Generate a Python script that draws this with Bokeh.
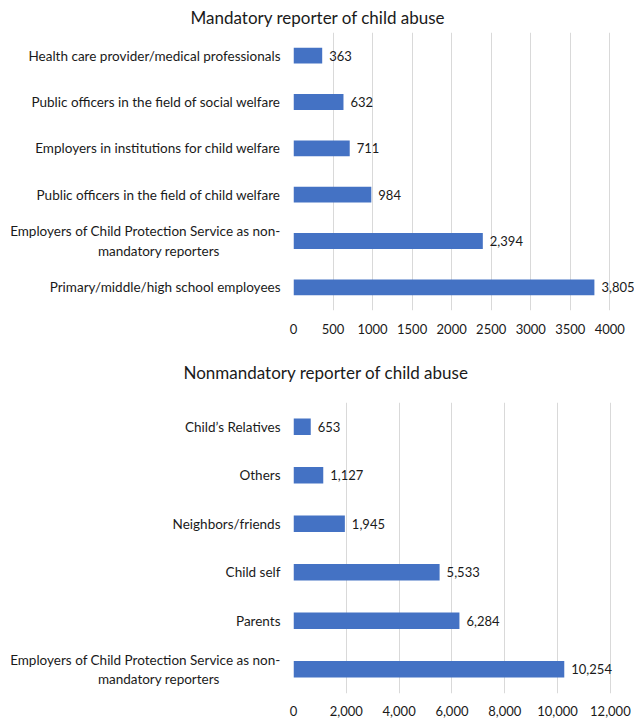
from bokeh.plotting import figure
from bokeh.models import FactorRange, Range1d, FixedTicker, NumeralTickFormatter, ColumnDataSource, BasicTickFormatter
from bokeh.layouts import column
from bokeh.core.properties import value
from bokeh.embed import file_html
from bokeh.resources import INLINE

# ---- data ----
PAD = "\u2003" * 6  # visual centring of the wrapped second line
mand_title = "Mandatory reporter of child abuse"
mand_cats = [
    "Health care provider/medical professionals",
    "Public officers in the field of social welfare",
    "Employers in institutions for child welfare",
    "Public officers in the field of child welfare",
    "Employers of Child Protection Service as non-\nmandatory reporters" + PAD,
    "Primary/middle/high school employees",
]
mand_vals = [363, 632, 711, 984, 2394, 3805]
mand_ticks = [0, 500, 1000, 1500, 2000, 2500, 3000, 3500, 4000]

nonm_title = "Nonmandatory reporter of child abuse"
nonm_cats = [
    "Child\u2019s Relatives",
    "Others",
    "Neighbors/friends",
    "Child self",
    "Parents",
    "Employers of Child Protection Service as non-\nmandatory reporters" + PAD,
]
nonm_vals = [653, 1127, 1945, 5533, 6284, 10254]
nonm_ticks = [0, 2000, 4000, 6000, 8000, 10000, 12000]

FONT = "Lato"
TXT = "#1a1a1a"
BAR = "#4472C4"
GRID = "#d9d9d9"


def make_chart(title, cats, vals, ticks, xend, fw, fh, b_left, b_top,
               b_bottom, title_offset, title_standoff, tick_standoff, comma):
    src = ColumnDataSource(dict(cat=cats, val=vals,
                                lbl=[f"{v:,}" for v in vals]))
    p = figure(frame_width=fw, frame_height=fh,
               y_range=FactorRange(factors=list(reversed(cats))),
               x_range=Range1d(0, xend),
               output_backend="svg", toolbar_location=None,
               min_border_left=b_left, min_border_right=0,
               min_border_top=b_top, min_border_bottom=b_bottom)
    p.hbar(y="cat", left=0, right="val", height=0.34, source=src,
           fill_color=BAR, line_color=None)
    p.text(x="val", y="cat", text="lbl", source=src, x_offset=7,
           text_baseline="middle", text_align="left",
           text_font=value(FONT), text_font_size="13px", text_color=TXT)

    p.title.text = title
    p.title.align = "left"
    p.title.offset = title_offset
    p.title.text_font = FONT
    p.title.text_font_size = "17px"
    p.title.text_font_style = "normal"
    p.title.text_color = TXT
    p.title.standoff = title_standoff

    p.outline_line_color = None
    p.ygrid.grid_line_color = None
    p.xgrid.grid_line_color = GRID
    p.xgrid.ticker = FixedTicker(ticks=ticks)

    xa = p.xaxis[0]
    xa.ticker = FixedTicker(ticks=ticks)
    xa.formatter = NumeralTickFormatter(format="0,0") if comma else BasicTickFormatter()
    ya = p.yaxis[0]
    for ax in (xa, ya):
        ax.axis_line_color = None
        ax.major_tick_line_color = None
        ax.minor_tick_line_color = None
        ax.major_tick_out = 0
        ax.major_tick_in = 0
        ax.major_label_text_font = FONT
        ax.major_label_text_color = TXT
    xa.major_label_text_font_size = "13px"
    ya.major_label_text_font_size = "13.5px"
    xa.major_label_standoff = tick_standoff
    ya.major_label_standoff = 13
    return p


top = make_chart(mand_title, mand_cats, mand_vals, mand_ticks, 4350, 344, 278,
                 290, 29, 30, -103, 9, 13, False)
bot = make_chart(nonm_title, nonm_cats, nonm_vals, nonm_ticks, 12800, 338, 291,
                 293, 50, 28, -110, 39, 12, True)

layout = column(top, bot, spacing=0)
open("out.html", "w").write(file_html(layout, INLINE))
